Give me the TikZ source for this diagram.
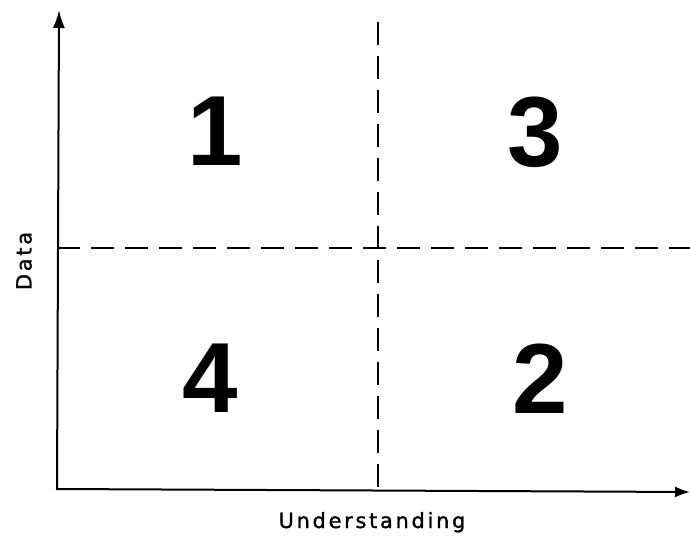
\documentclass[tikz,border=0pt]{standalone}
\usepackage{fontspec}
\setmainfont{Liberation Sans}
\newfontfamily\labelfont[LetterSpace=13,FakeBold=1.3]{DejaVu Sans}
\usetikzlibrary{arrows.meta}
\begin{document}
\begin{tikzpicture}[
        x=1bp, y=-1bp,
        axis/.style={line width=2bp, {Latex[length=18bp,width=12bp]}-{Latex[length=15bp,width=11bp]}},
        divider/.style={line width=2.4bp, dash pattern=on 23bp off 11bp},
        digit/.style={font=\fontsize{100}{100}\selectfont\bfseries, anchor=base, inner sep=0pt},
        axislabel/.style={font=\fontsize{21}{21}\selectfont\labelfont, inner sep=0pt}
    ]
    \useasboundingbox (0,0) rectangle (690,543);

    % Axes
    \coordinate (origin) at (57,489);
    \coordinate (ytop) at (59,10);
    \coordinate (xend) at (690,492);
    \draw[axis] (ytop) -- (origin) -- (xend);

    % Dashed dividers
    \coordinate (vtop) at (378,22); \coordinate (vbot) at (378,489);
    \coordinate (hleft) at (57,248); \coordinate (hright) at (690,248);
    \draw[divider] (vtop) -- (vbot);
    \draw[divider] (hleft) -- (hright);

    % Quadrant numbers
    \node[digit] (one) at (215,166) {1}; \node[digit] (three) at (535,167) {3};
    \node[digit] (four) at (210,412) {4}; \node[digit] (two) at (540,413) {2};

    % Axis labels
    \node[axislabel, rotate=90] (data) at (24,261) {Data};
    \node[axislabel, anchor=base] (understanding) at (372,528) {Understanding};
\end{tikzpicture}
\end{document}
